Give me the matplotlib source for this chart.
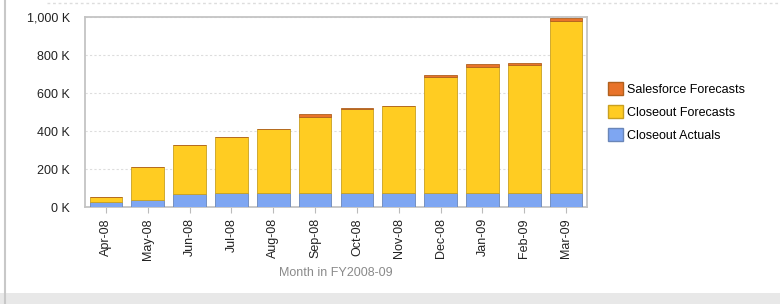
import matplotlib.pyplot as plt
import matplotlib.patches as mpatches
import numpy as np

plt.rcParams['font.family'] = ['Liberation Sans', 'DejaVu Sans']

months = ['Apr-08', 'May-08', 'Jun-08', 'Jul-08', 'Aug-08', 'Sep-08',
          'Oct-08', 'Nov-08', 'Dec-08', 'Jan-09', 'Feb-09', 'Mar-09']
# values in K
closeout_actuals = [25, 37, 69, 76, 76, 76, 76, 76, 76, 76, 76, 76]
closeout_forecasts = [29, 174, 259, 294, 337, 399, 441, 455, 607, 663, 670, 905]
salesforce_forecasts = [0, 0, 0, 0, 0, 12, 3, 3, 12, 12, 12, 14]

blue = '#7EA6F2'
yellow = '#FFCC22'
orange = '#E8732A'

fig = plt.figure(figsize=(7.8, 3.04), dpi=100)
ax = fig.add_axes([0.109, 0.319, 0.6436, 0.625])

x = np.arange(len(months))
w = 0.78
act = np.array(closeout_actuals)
fc = np.array(closeout_forecasts)
sf = np.array(salesforce_forecasts)

ax.bar(x, act, w, color=blue, edgecolor='#6a86b8', linewidth=0.6, zorder=3)
ax.bar(x, fc, w, bottom=act, color=yellow, edgecolor='#c9a020', linewidth=0.6, zorder=3)
ax.bar(x, sf, w, bottom=act + fc, color=orange, edgecolor='#b0601e', linewidth=0.6, zorder=3)

ax.set_xlim(-0.5, len(months) - 0.5)
ax.set_ylim(0, 1000)
ax.set_yticks([0, 200, 400, 600, 800, 1000])
ax.set_yticklabels(['0 K', '200 K', '400 K', '600 K', '800 K', '1,000 K'], fontsize=9, color='#222222')
ax.set_xticks(x)
ax.set_xticklabels(months, rotation=90, fontsize=9, color='#222222')
ax.tick_params(axis='y', length=0, pad=11)
ax.tick_params(axis='x', length=4, color='#bbbbbb', pad=4)
ax.yaxis.grid(True, linestyle=(0, (2, 2)), color='#dddddd', linewidth=0.8, zorder=0)
for s in ax.spines.values():
    s.set_color('#c4c4c4')
    s.set_linewidth(1.3)

ax.set_xlabel('Month in FY2008-09', fontsize=9, color='#8a8a8a', va='center')
ax.xaxis.set_label_coords(0.5, -0.345)

handles = [mpatches.Patch(facecolor=orange, edgecolor='#b0601e', label='Salesforce Forecasts'),
           mpatches.Patch(facecolor=yellow, edgecolor='#c9a020', label='Closeout Forecasts'),
           mpatches.Patch(facecolor=blue, edgecolor='#6a86b8', label='Closeout Actuals')]
fig.legend(handles=handles, loc='center left', bbox_to_anchor=(0.765, 0.632), frameon=False,
           fontsize=9, handlelength=1.2, handleheight=1.2, handletextpad=0.3,
           labelspacing=0.75)

# outer frame decoration
fig.add_artist(plt.Line2D([0.006, 0.006], [0, 1], color='#c8c8c8', linewidth=1.5))
fig.add_artist(plt.Line2D([0.06, 1.0], [0.99, 0.99], color='#dddddd', linewidth=1, linestyle=(0, (2, 2))))
fig.add_artist(mpatches.Rectangle((0, 0), 1, 0.036, transform=fig.transFigure,
                                  facecolor='#e8e8e8', edgecolor='none'))

fig.savefig('out.png', dpi=100)
